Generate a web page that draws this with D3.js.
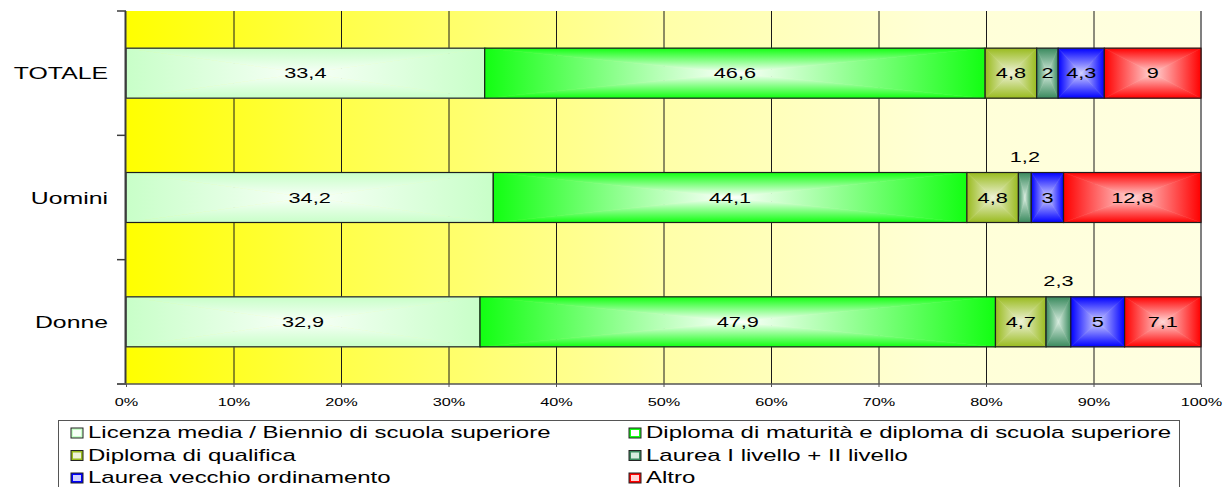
<!DOCTYPE html>
<html>
<head>
<meta charset="utf-8">
<title>Titolo di studio</title>
<script src="https://cdnjs.cloudflare.com/ajax/libs/d3/7.8.5/d3.min.js"></script>
<style>
  body { margin: 0; background: #fff; }
  svg text { font-family: "Liberation Sans", Arial, sans-serif; fill: #000; }
</style>
</head>
<body>
<div id="chart"></div>
<script>
// --- data ---
var categories = ["TOTALE", "Uomini", "Donne"];
var seriesNames = [
  "Licenza media / Biennio di scuola superiore",
  "Diploma di maturità e diploma di scuola superiore",
  "Diploma di qualifica",
  "Laurea I livello + II livello",
  "Laurea vecchio ordinamento",
  "Altro"
];
var totale = [33.4, 46.6, 4.8, 2, 4.3, 9];
var uomini = [34.2, 44.1, 4.8, 1.2, 3, 12.8];
var donne  = [32.9, 47.9, 4.7, 2.3, 5, 7.1];
var xTicks = [0, 10, 20, 30, 40, 50, 60, 70, 80, 90, 100];
// labels that sit above the bar: [category index, series index]
var labelsAbove = [[1, 3], [2, 3]];

// colours
var edgeCol   = ["#c8ffc8", "#12ff12", "#99bb1e", "#3a8a5e", "#0000ff", "#ff0000"];
var centerCol = ["#f8fff8", "#ffffff", "#eef2d8", "#d6ebde", "#d0d0ff", "#ffd6d6"];

var width = 1228, height = 487;
var SX = 1.55; // the original chart is stretched sideways, text too
var pLeft = 126, pRight = 1201, pTop = 11, pBottom = 384;

var rows = [totale, uomini, donne];

var svg = d3.select("#chart").append("svg")
  .attr("width", width).attr("height", height);
var defs = svg.append("defs");

// background gradient
var bg = defs.append("linearGradient").attr("id", "bg")
  .attr("x1", 0).attr("y1", 0).attr("x2", 1).attr("y2", 0);
[[0, "#ffff00"], [0.2, "#ffff4a"], [0.5, "#ffffa8"], [0.75, "#ffffd6"], [1, "#ffffe2"]]
  .forEach(function(s) { bg.append("stop").attr("offset", s[0]).attr("stop-color", s[1]); });

// rectangle-from-centre gradients (four triangles per segment)
var dirs = {
  t: [0, 0, 0, 1], b: [0, 1, 0, 0], l: [0, 0, 1, 0], r: [1, 0, 0, 0]
};
edgeCol.forEach(function(c, i) {
  Object.keys(dirs).forEach(function(k) {
    var d = dirs[k];
    var g = defs.append("linearGradient").attr("id", "g" + i + k)
      .attr("x1", d[0]).attr("y1", d[1]).attr("x2", d[2]).attr("y2", d[3]);
    g.append("stop").attr("offset", 0).attr("stop-color", c);
    g.append("stop").attr("offset", 1).attr("stop-color", centerCol[i]);
  });
});

var x = d3.scaleLinear().domain([0, 100]).range([pLeft, pRight]);
var y = d3.scaleBand().domain(categories).range([pTop, pBottom])
  .paddingInner(0.598).paddingOuter(0.299);

// plot background
svg.append("rect")
  .attr("x", pLeft).attr("y", pTop)
  .attr("width", pRight - pLeft).attr("height", pBottom - pTop)
  .attr("fill", "url(#bg)");

// vertical grid lines
svg.append("g").selectAll("line")
  .data(xTicks.slice(1, -1))
  .join("line")
  .attr("x1", function(d) { return x(d) + 0.5; })
  .attr("x2", function(d) { return x(d) + 0.5; })
  .attr("y1", pTop).attr("y2", pBottom)
  .attr("stroke", "#1a1a1a").attr("stroke-width", 1);

// right border
svg.append("line")
  .attr("x1", pRight).attr("x2", pRight).attr("y1", pTop).attr("y2", pBottom)
  .attr("stroke", "#808080").attr("stroke-width", 2);

// stacked segments, normalised to 100%
var stackData = [];
rows.forEach(function(vals, ci) {
  var sum = d3.sum(vals), acc = 0;
  vals.forEach(function(v, si) {
    stackData.push({ ci: ci, si: si, v: v, x0: acc / sum * 100, x1: (acc + v) / sum * 100 });
    acc += v;
  });
});

var segs = svg.append("g").selectAll("g")
  .data(stackData)
  .join("g");

segs.each(function(d) {
  var g = d3.select(this);
  var x0 = x(d.x0), x1 = x(d.x1);
  var y0 = y(categories[d.ci]), y1 = y0 + y.bandwidth();
  var cx = (x0 + x1) / 2, cy = (y0 + y1) / 2;
  var tris = {
    t: [[x0, y0], [x1, y0], [cx, cy]],
    b: [[x0, y1], [x1, y1], [cx, cy]],
    l: [[x0, y0], [x0, y1], [cx, cy]],
    r: [[x1, y0], [x1, y1], [cx, cy]]
  };
  Object.keys(tris).forEach(function(k) {
    g.append("polygon")
      .attr("points", tris[k].map(function(p) { return p.join(","); }).join(" "))
      .attr("fill", "url(#g" + d.si + k + ")")
      .attr("stroke", "url(#g" + d.si + k + ")")
      .attr("stroke-width", 0.6);
  });
  g.append("rect")
    .attr("x", x0).attr("y", y0)
    .attr("width", x1 - x0).attr("height", y1 - y0)
    .attr("fill", "none").attr("stroke", "#1e1e1e").attr("stroke-width", 1.2);
});

function stext(parent, tx, ty, str, size, anchor, sx) {
  return parent.append("text")
    .attr("transform", "translate(" + tx + "," + ty + ") scale(" + (sx || SX) + ",1)")
    .attr("text-anchor", anchor)
    .attr("font-size", size)
    .text(str);
}

var fmt = function(v) { return String(v).replace(".", ","); };
var labG = svg.append("g");
stackData.forEach(function(d) {
  var above = labelsAbove.some(function(a) { return a[0] === d.ci && a[1] === d.si; });
  var cx = (x(d.x0) + x(d.x1)) / 2;
  var cy = y(categories[d.ci]) + y.bandwidth() / 2;
  if (above) cy = y(categories[d.ci]) - 16;
  stext(labG, cx, cy + 5, fmt(d.v), 14, "middle");
});

// y axis
var step = y.step();
var yTicks = d3.range(categories.length + 1).map(function(i) { return pTop + i * step; });
svg.append("line")
  .attr("x1", pLeft - 0.5).attr("x2", pLeft - 0.5).attr("y1", pTop).attr("y2", pBottom)
  .attr("stroke", "#3c3c3c").attr("stroke-width", 2);
svg.append("g").selectAll("line")
  .data(yTicks)
  .join("line")
  .attr("x1", pLeft - 9).attr("x2", pLeft)
  .attr("y1", function(d) { return d; }).attr("y2", function(d) { return d; })
  .attr("stroke", "#3c3c3c").attr("stroke-width", 1.5);

var catG = svg.append("g");
categories.forEach(function(c) {
  stext(catG, 108, y(c) + y.bandwidth() / 2 + 6, c, 16, "end");
});

// x axis
var xAxis = svg.append("g")
  .attr("transform", "translate(0," + pBottom + ")")
  .call(d3.axisBottom(x).tickValues(xTicks).tickSize(3).tickPadding(12)
    .tickFormat(function(d) { return d + "%"; }));
xAxis.select(".domain").attr("d", "M" + (pLeft - 9) + ",0H" + pRight)
  .attr("stroke", "#555").attr("stroke-width", 1.5);
xAxis.selectAll(".tick line").attr("stroke", "#555");
xAxis.selectAll(".tick text")
  .attr("font-size", 10.5)
  .attr("font-family", "Liberation Sans, Arial, sans-serif")
  .attr("transform", "scale(" + SX + ",1)");

// legend
var leg = svg.append("g");
leg.append("rect")
  .attr("x", 58.5).attr("y", 420.5).attr("width", 1121).attr("height", 90)
  .attr("fill", "#fff").attr("stroke", "#555").attr("stroke-width", 1);
var colX = [71, 629], rowY = [438, 460.5, 483];
seriesNames.forEach(function(name, i) {
  var lx = colX[i % 2], ly = rowY[Math.floor(i / 2)];
  leg.append("rect")
    .attr("x", lx).attr("y", ly - 10).attr("width", 12).attr("height", 10)
    .attr("fill", edgeCol[i]).attr("stroke", "#222").attr("stroke-width", 1);
  leg.append("rect")
    .attr("x", lx + 2).attr("y", ly - 8).attr("width", 8).attr("height", 6)
    .attr("fill", centerCol[i]);
  stext(leg, lx + 17, ly, name, 16, "start", 1.5);
});
</script>
</body>
</html>
